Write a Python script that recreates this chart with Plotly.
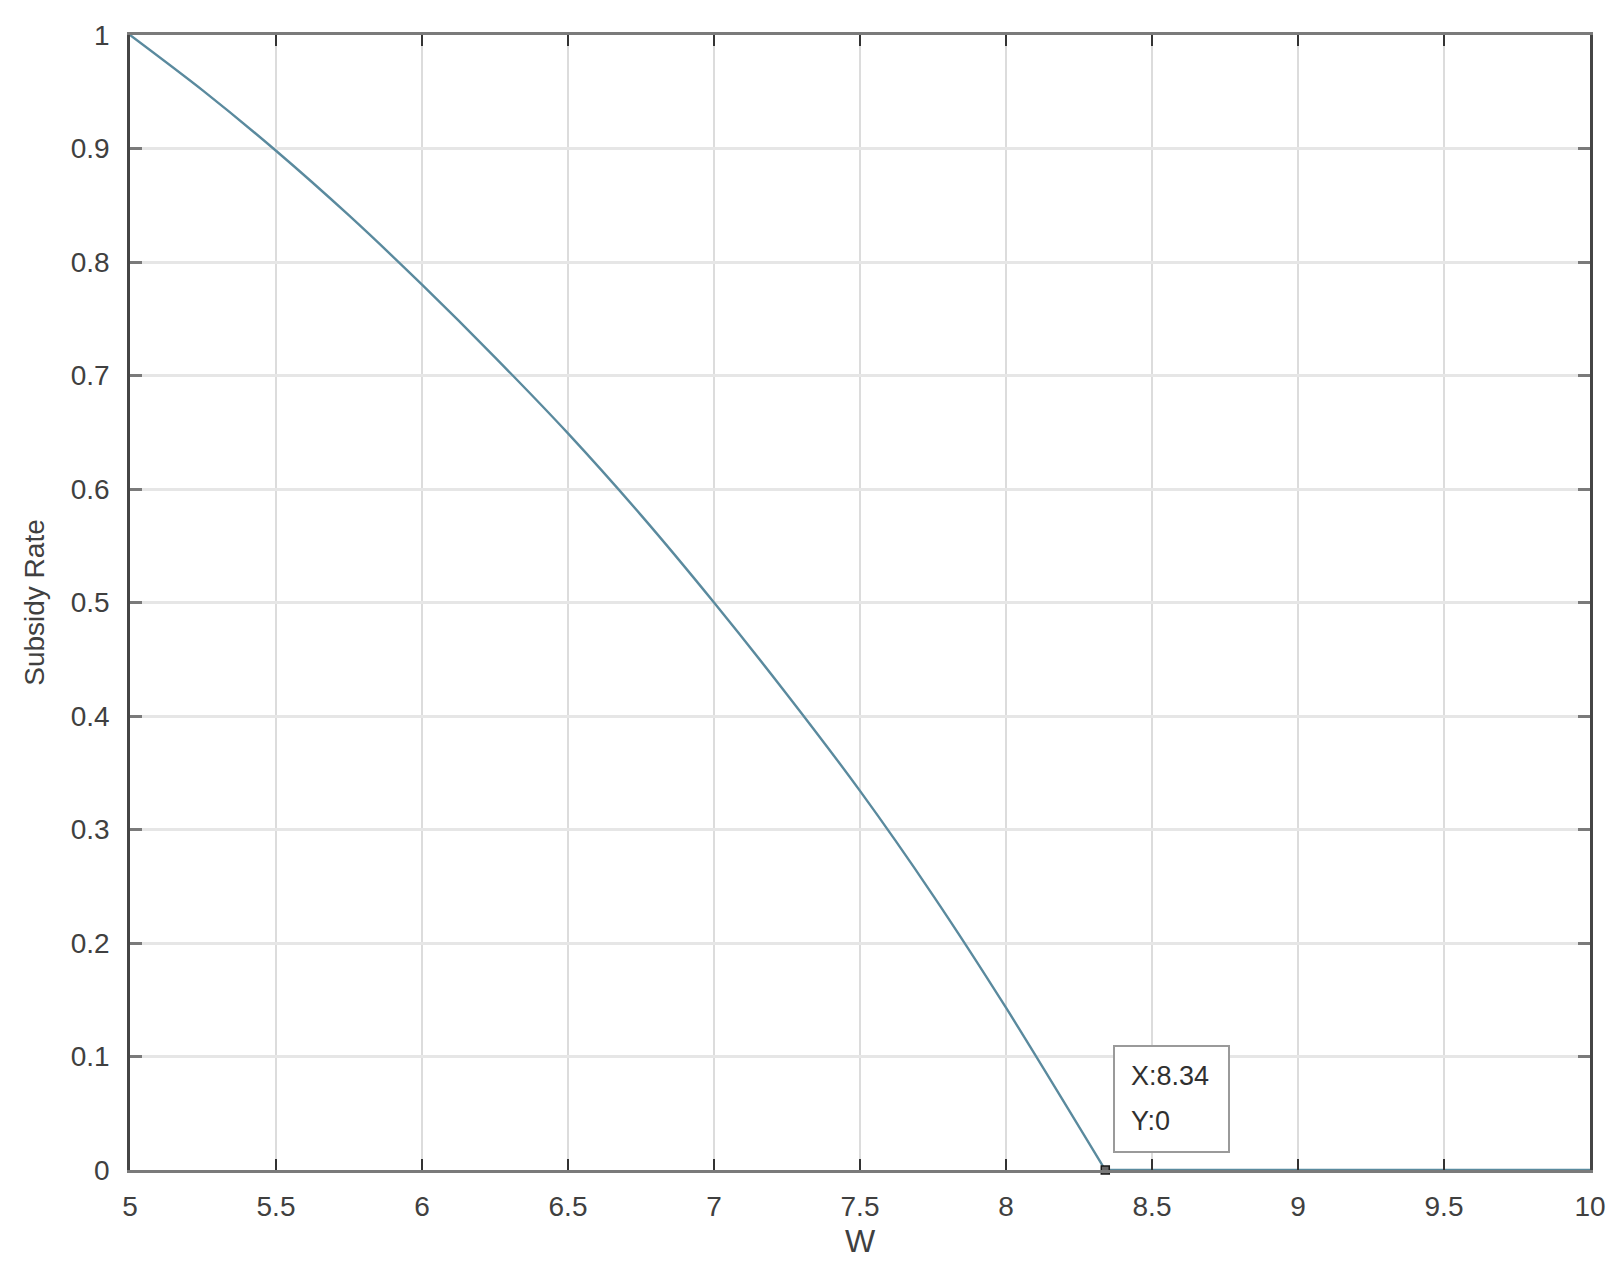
import plotly.graph_objects as go

# Curve values
w_vals = [5.0, 5.25, 5.5, 5.75, 6.0, 6.25, 6.5, 6.75, 7.0, 7.25, 7.5, 7.75, 8.0, 8.34]
rate_vals = [1.0, 0.951, 0.898, 0.841, 0.780, 0.716, 0.649, 0.577, 0.500, 0.419, 0.334, 0.242, 0.143, 0.0]
# Flat part after the curve reaches zero
flat_w = [8.34, 10.0]
flat_rate = [0.0, 0.0]

# Datatip
tip_x = 8.34
tip_y = 0

x_ticks = [5, 5.5, 6, 6.5, 7, 7.5, 8, 8.5, 9, 9.5, 10]
x_tick_text = ["5", "5.5", "6", "6.5", "7", "7.5", "8", "8.5", "9", "9.5", "10"]
y_ticks = [0, 0.1, 0.2, 0.3, 0.4, 0.5, 0.6, 0.7, 0.8, 0.9, 1]
y_tick_text = ["0", "0.1", "0.2", "0.3", "0.4", "0.5", "0.6", "0.7", "0.8", "0.9", "1"]

FONT = "Liberation Sans, Arial, Helvetica, sans-serif"
LINE_COLOR = "#5a8a9e"

fig = go.Figure()
fig.add_trace(go.Scatter(
    x=w_vals, y=rate_vals, mode="lines",
    line=dict(color=LINE_COLOR, width=2.4, shape="spline", smoothing=0.8),
    showlegend=False, hoverinfo="skip",
))
fig.add_trace(go.Scatter(
    x=flat_w, y=flat_rate, mode="lines",
    line=dict(color=LINE_COLOR, width=2.4),
    showlegend=False, hoverinfo="skip", cliponaxis=False,
))
fig.add_trace(go.Scatter(
    x=[tip_x], y=[tip_y], mode="markers",
    marker=dict(symbol="square", size=8, color="#6a6a6a",
                line=dict(color="#1a1a1a", width=1.5)),
    showlegend=False, hoverinfo="skip", cliponaxis=False,
))

# Datatip box
fig.add_annotation(
    x=tip_x, y=tip_y, xref="x", yref="y", text=" ", showarrow=False,
    xanchor="left", yanchor="bottom", xshift=8, yshift=17,
    width=113, height=104, bgcolor="white",
    bordercolor="#9a9a9a", borderwidth=2, borderpad=0,
)
fig.add_annotation(
    x=tip_x, y=tip_y, xref="x", yref="y", text=f"X:{tip_x}", showarrow=False,
    xanchor="left", yanchor="middle", xshift=24, yshift=94,
    font=dict(family=FONT, size=27, color="#303030"),
)
fig.add_annotation(
    x=tip_x, y=tip_y, xref="x", yref="y", text=f"Y:{tip_y}", showarrow=False,
    xanchor="left", yanchor="middle", xshift=24, yshift=49,
    font=dict(family=FONT, size=27, color="#303030"),
)

fig.update_layout(
    width=1620, height=1267,
    margin=dict(l=122, r=38, t=27, b=105, autoexpand=False),
    paper_bgcolor="white", plot_bgcolor="white",
    font=dict(family=FONT, size=28, color="#404040"),
    showlegend=False,
)
fig.update_xaxes(
    range=[5, 10], tickvals=x_ticks, ticktext=x_tick_text,
    showgrid=True, gridcolor="#dcdcdc", gridwidth=1.5,
    showline=True, linecolor="#7a7a7a", linewidth=3, mirror="ticks",
    ticks="inside", ticklen=11, tickwidth=2, tickcolor="#333333",
    zeroline=False, ticklabelstandoff=9, automargin=False,
    tickfont=dict(family=FONT, size=28, color="#404040"),
    title=dict(text="W", font=dict(family=FONT, size=32, color="#404040"), standoff=10),
)
fig.update_yaxes(
    range=[0, 1], tickvals=y_ticks, ticktext=y_tick_text,
    showgrid=True, gridcolor="#e6e6e6", gridwidth=2.5,
    showline=True, linecolor="#454545", linewidth=2.5, mirror="ticks",
    ticks="inside", ticklen=12, tickwidth=3, tickcolor="#7a7a7a",
    zeroline=False, ticklabelstandoff=12, automargin=False,
    tickfont=dict(family=FONT, size=28, color="#404040"),
    title=dict(text="Subsidy Rate", font=dict(family=FONT, size=28, color="#404040"), standoff=18),
)

fig.write_html("out.html")
